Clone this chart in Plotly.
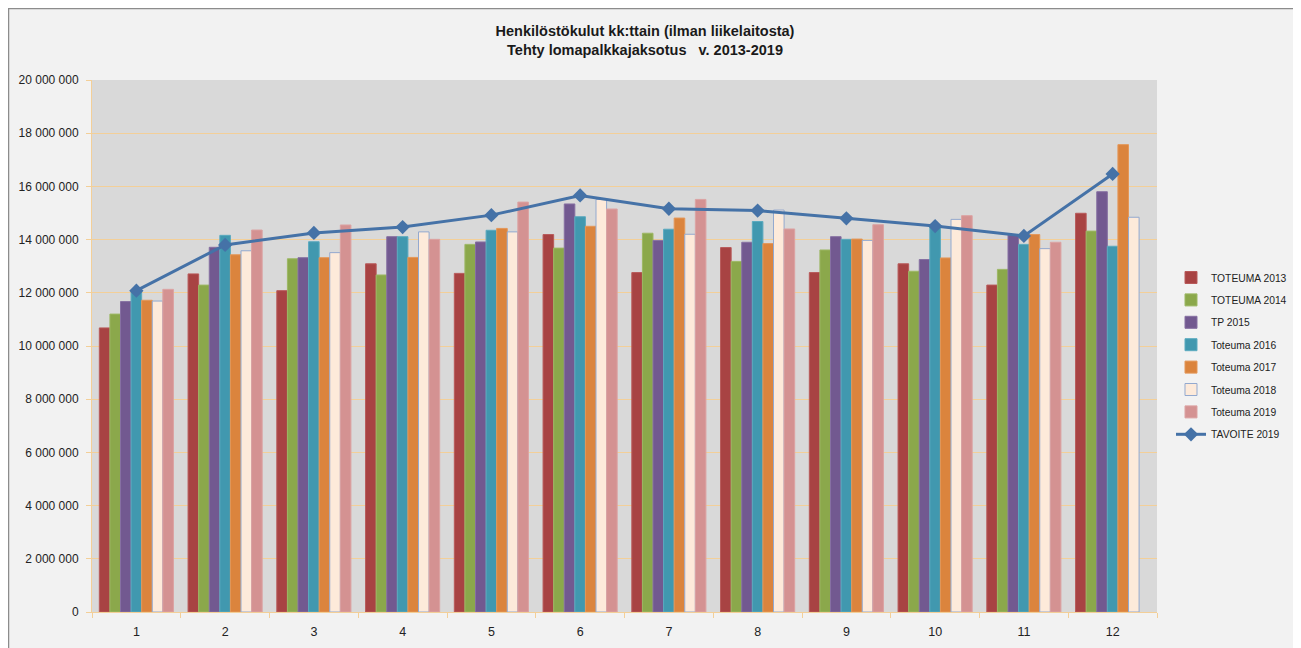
import plotly.graph_objects as go

months = ["1", "2", "3", "4", "5", "6", "7", "8", "9", "10", "11", "12"]

toteuma_2013 = [10.68, 12.71, 12.08, 13.09, 12.73, 14.19, 12.76, 13.70, 12.76, 13.09, 12.29, 14.99]
toteuma_2014 = [11.20, 12.29, 13.28, 12.67, 13.82, 13.68, 14.24, 13.18, 13.61, 12.81, 12.88, 14.32]
tp_2015 = [11.67, 13.71, 13.32, 14.11, 13.91, 15.34, 13.97, 13.90, 14.11, 13.25, 14.17, 15.80]
toteuma_2016 = [12.08, 14.16, 13.92, 14.11, 14.35, 14.86, 14.39, 14.68, 14.01, 14.51, 13.82, 13.75]
toteuma_2017 = [11.72, 13.43, 13.32, 13.33, 14.42, 14.50, 14.81, 13.85, 14.02, 13.31, 14.19, 17.57]
toteuma_2018 = [11.69, 13.58, 13.51, 14.29, 14.29, 15.51, 14.20, 15.11, 13.97, 14.76, 13.66, 14.84]
toteuma_2019 = [12.13, 14.36, 14.55, 14.01, 15.41, 15.15, 15.51, 14.40, 14.56, 14.90, 13.90, None]
tavoite_2019 = [12.08, 13.80, 14.25, 14.47, 14.92, 15.66, 15.16, 15.09, 14.80, 14.51, 14.14, 16.47]

def mil(vals):
    return [None if v is None else v * 1_000_000 for v in vals]

bar_series = [
    ("TOTEUMA 2013", toteuma_2013, "#A84343", "#B85A5A"),
    ("TOTEUMA 2014", toteuma_2014, "#8BA84B", "#9DB865"),
    ("TP 2015", tp_2015, "#725990", "#8670A2"),
    ("Toteuma 2016", toteuma_2016, "#4198AF", "#5BAABF"),
    ("Toteuma 2017", toteuma_2017, "#DB843D", "#E49758"),
    ("Toteuma 2018", toteuma_2018, "#FDEADA", "#93A9CF"),
    ("Toteuma 2019", toteuma_2019, "#D49292", "#DCA3A3"),
]

fig = go.Figure()
for i, (name, vals, col, lcol) in enumerate(bar_series):
    fig.add_trace(go.Bar(
        x=months, y=mil(vals), name=name,
        marker=dict(color=col, line=dict(color=lcol, width=1)),
        legendgroup=f"g{i}",
    ))

fig.add_trace(go.Scatter(
    x=months, y=mil(tavoite_2019), name="TAVOITE 2019",
    mode="lines+markers",
    line=dict(color="#4572A7", width=3),
    marker=dict(symbol="diamond", size=11, color="#4572A7"),
    legendgroup="g7",
))

W, H = 1301, 648
OFF = 8  # page body margin
L, R, T, B = 92 - OFF, 1157 - OFF, 80 - OFF, 612 - OFF
pw, ph = R - L, B - T

def px(x):
    return (x - OFF - L) / pw

def py(y):
    return (B - (y - OFF)) / ph

shapes = [
    dict(type="rect", xref="paper", yref="paper", x0=px(8.5), x1=px(1300), y0=py(H + 20), y1=py(8.5),
         fillcolor="rgba(0,0,0,0)", line=dict(color="#8c8c8c", width=1.5), layer="above"),
]

AX = "#F3CF98"

fig.update_layout(
    width=W, height=H,
    margin=dict(l=L, r=W - R, t=T, b=H - B),
    paper_bgcolor="#F2F2F2",
    plot_bgcolor="#D9D9D9",
    barmode="group", bargap=0.165, bargroupgap=0,
    separators=", ",
    font=dict(family="Liberation Sans, Arial, sans-serif", size=11, color="#333333"),
    title=dict(
        text="<b>Henkilöstökulut kk:ttain (ilman liikelaitosta)<br>Tehty lomapalkkajaksotus   v. 2013-2019</b>",
        x=(645 - OFF) / W, xanchor="center", xref="container",
        y=1 - 28 / H, yanchor="top", yref="container",
        font=dict(size=14.5, color="#1a1a1a"),
    ),
    legend=dict(
        x=px(1171), xanchor="left", y=py(263), yanchor="top",
        bgcolor="rgba(0,0,0,0)", font=dict(size=10.3, color="#222222"),
        tracegroupgap=3.4, itemwidth=30,
    ),
    shapes=shapes,
    showlegend=True,
)

fig.update_xaxes(
    type="category", range=[-0.5, 11.5], tickson="boundaries",
    ticks="outside", ticklen=5, tickcolor=AX,
    showline=True, linecolor=AX, linewidth=1,
    showgrid=False, tickfont=dict(size=12.5, color="#222222"),
    ticklabelstandoff=8,
)
fig.update_yaxes(
    range=[0, 20_000_000], dtick=2_000_000, tickformat=",d",
    showgrid=True, gridcolor=AX, gridwidth=1,
    ticks="outside", ticklen=5, tickcolor=AX,
    showline=True, linecolor=AX, linewidth=1,
    zeroline=False, tickfont=dict(size=12, color="#222222"),
    ticklabelstandoff=5,
)

fig.write_html("out.html")
